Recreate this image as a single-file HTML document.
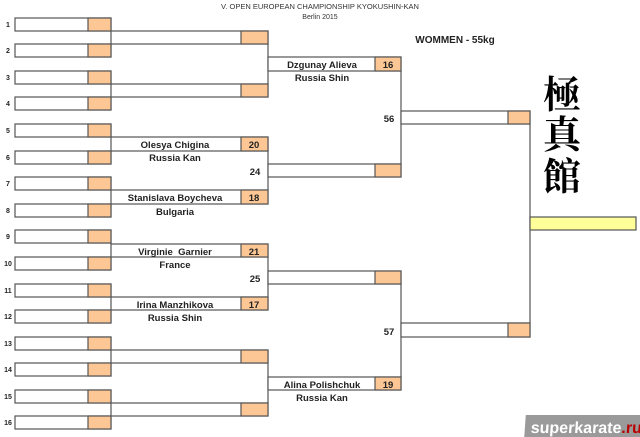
<!DOCTYPE html>
<html><head><meta charset="utf-8"><style>
html,body{margin:0;padding:0;background:#fff;}
svg{display:block;}
.b{fill:#fff;stroke:#555;stroke-width:1.2}
.o{fill:#fcc794;stroke:#555;stroke-width:1.2}
.y{fill:#ffff99;stroke:#555;stroke-width:1.2}
.n{font-family:"Liberation Sans",sans-serif;font-weight:bold;font-size:7px;fill:#222}
.t{font-family:"Liberation Sans",sans-serif;font-weight:bold;font-size:9.5px;fill:#222}
.s{font-family:"Liberation Sans",sans-serif;font-weight:bold;font-size:10px;fill:#222}
</style></head><body>
<svg width="640" height="437" viewBox="0 0 640 437" xmlns="http://www.w3.org/2000/svg">
<text x="320" y="9" text-anchor="middle" font-family="Liberation Sans,sans-serif" font-size="7.5" fill="#333">V. OPEN EUROPEAN CHAMPIONSHIP KYOKUSHIN-KAN</text>
<text x="320" y="19" text-anchor="middle" font-family="Liberation Sans,sans-serif" font-size="7" fill="#333">Berlin 2015</text>
<text x="455" y="43" text-anchor="middle" class="s">WOMMEN - 55kg</text>
<g stroke="#555" stroke-width="1.2">
<line x1="268" y1="44" x2="268" y2="84"/><line x1="268" y1="150" x2="268" y2="190"/>
<line x1="268" y1="257" x2="268" y2="297"/><line x1="268" y1="363" x2="268" y2="403"/>
<line x1="401" y1="71" x2="401" y2="164"/><line x1="401" y1="284" x2="401" y2="377"/>
<line x1="530" y1="124" x2="530" y2="323"/>
</g>
<g>
<rect class="b" x="15" y="18" width="96" height="13"/><rect class="o" x="88" y="18" width="23" height="13"/>
<rect class="b" x="15" y="44" width="96" height="13"/><rect class="o" x="88" y="44" width="23" height="13"/>
<rect class="b" x="15" y="71" width="96" height="13"/><rect class="o" x="88" y="71" width="23" height="13"/>
<rect class="b" x="15" y="97" width="96" height="13"/><rect class="o" x="88" y="97" width="23" height="13"/>
<rect class="b" x="15" y="124" width="96" height="13"/><rect class="o" x="88" y="124" width="23" height="13"/>
<rect class="b" x="15" y="151" width="96" height="13"/><rect class="o" x="88" y="151" width="23" height="13"/>
<rect class="b" x="15" y="177" width="96" height="13"/><rect class="o" x="88" y="177" width="23" height="13"/>
<rect class="b" x="15" y="204" width="96" height="13"/><rect class="o" x="88" y="204" width="23" height="13"/>
<rect class="b" x="15" y="230" width="96" height="13"/><rect class="o" x="88" y="230" width="23" height="13"/>
<rect class="b" x="15" y="257" width="96" height="13"/><rect class="o" x="88" y="257" width="23" height="13"/>
<rect class="b" x="15" y="284" width="96" height="13"/><rect class="o" x="88" y="284" width="23" height="13"/>
<rect class="b" x="15" y="310" width="96" height="13"/><rect class="o" x="88" y="310" width="23" height="13"/>
<rect class="b" x="15" y="337" width="96" height="13"/><rect class="o" x="88" y="337" width="23" height="13"/>
<rect class="b" x="15" y="363" width="96" height="13"/><rect class="o" x="88" y="363" width="23" height="13"/>
<rect class="b" x="15" y="390" width="96" height="13"/><rect class="o" x="88" y="390" width="23" height="13"/>
<rect class="b" x="15" y="416" width="96" height="13"/><rect class="o" x="88" y="416" width="23" height="13"/>
</g>
<g class="n" text-anchor="middle">
<text x="8" y="27">1</text><text x="8" y="53">2</text><text x="8" y="80">3</text><text x="8" y="106">4</text>
<text x="8" y="133">5</text><text x="8" y="160">6</text><text x="8" y="186">7</text><text x="8" y="213">8</text>
<text x="8" y="239">9</text><text x="8" y="266">10</text><text x="8" y="293">11</text><text x="8" y="319">12</text>
<text x="8" y="346">13</text><text x="8" y="372">14</text><text x="8" y="399">15</text><text x="8" y="425">16</text>
</g>
<g>
<rect class="b" x="111" y="31" width="157" height="13"/><rect class="o" x="241" y="31" width="27" height="13"/>
<rect class="b" x="111" y="84" width="157" height="13"/><rect class="o" x="241" y="84" width="27" height="13"/>
<rect class="b" x="111" y="137" width="157" height="14"/><rect class="o" x="241" y="137" width="27" height="14"/>
<rect class="b" x="111" y="190" width="157" height="14"/><rect class="o" x="241" y="190" width="27" height="14"/>
<rect class="b" x="111" y="244" width="157" height="13"/><rect class="o" x="241" y="244" width="27" height="13"/>
<rect class="b" x="111" y="297" width="157" height="13"/><rect class="o" x="241" y="297" width="27" height="13"/>
<rect class="b" x="111" y="350" width="157" height="13"/><rect class="o" x="241" y="350" width="27" height="13"/>
<rect class="b" x="111" y="403" width="157" height="13"/><rect class="o" x="241" y="403" width="27" height="13"/>
</g>
<g>
<rect class="b" x="268" y="57" width="133" height="14"/><rect class="o" x="375" y="57" width="26" height="14"/>
<rect class="b" x="268" y="164" width="133" height="13"/><rect class="o" x="375" y="164" width="26" height="13"/>
<rect class="b" x="268" y="271" width="133" height="13"/><rect class="o" x="375" y="271" width="26" height="13"/>
<rect class="b" x="268" y="377" width="133" height="13"/><rect class="o" x="375" y="377" width="26" height="13"/>
</g>
<rect class="b" x="401" y="111" width="129" height="13"/><rect class="o" x="508" y="111" width="22" height="13"/>
<rect class="b" x="401" y="323" width="129" height="14"/><rect class="o" x="508" y="323" width="22" height="14"/>
<rect class="y" x="530" y="217" width="106" height="13"/>
<g class="t" text-anchor="middle">
<text x="175" y="148">Olesya Chigina</text><text x="175" y="161">Russia Kan</text>
<text x="175" y="201">Stanislava Boycheva</text><text x="175" y="215">Bulgaria</text>
<text x="175" y="255">Virginie&#160; Garnier</text><text x="175" y="268">France</text>
<text x="175" y="308">Irina Manzhikova</text><text x="175" y="321">Russia Shin</text>
<text x="322" y="68">Dzgunay Alieva</text><text x="322" y="81">Russia Shin</text>
<text x="322" y="388">Alina Polishchuk</text><text x="322" y="401">Russia Kan</text>
<text x="254" y="148">20</text><text x="254" y="201">18</text><text x="254" y="255">21</text><text x="254" y="308">17</text>
<text x="388" y="68">16</text><text x="388" y="388">19</text>
<text x="255" y="175">24</text><text x="255" y="282">25</text>
<text x="389" y="122">56</text><text x="389" y="335">57</text>
</g>
<g font-family="Noto Serif CJK SC,serif" font-weight="bold" font-size="38" text-anchor="middle" fill="#000">
<text x="562" y="108">極</text><text x="562" y="148">真</text><text x="562" y="190">館</text>
</g>
<g transform="translate(526,412) skewX(-4)">
<rect x="0" y="3" width="116" height="22" fill="#9a9a9a"/>
<text x="6" y="21" font-family="Liberation Sans,sans-serif" font-weight="bold" font-size="16" fill="#fff">superkarate<tspan fill="#b00">.ru</tspan></text>
</g>
</svg>
</body></html>
